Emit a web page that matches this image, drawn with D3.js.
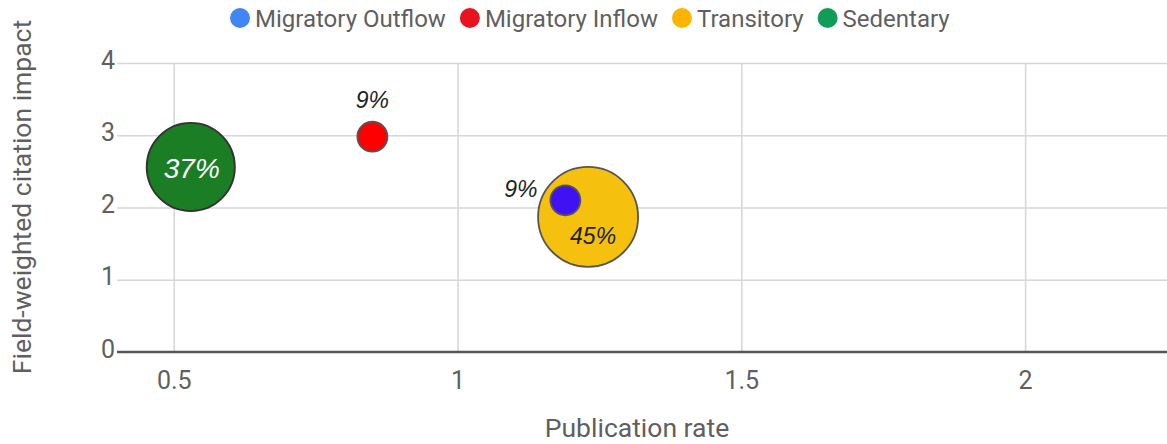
<!DOCTYPE html>
<html>
<head>
<meta charset="utf-8">
<script src="https://cdn.jsdelivr.net/npm/d3@7"></script>
<style>
  html, body { margin: 0; padding: 0; background: #fff; }
  svg { display: block; }
</style>
</head>
<body>
<svg id="chart" width="1167" height="444"></svg>
<script>
// ---- data ----
const categories = ["Migratory Outflow", "Migratory Inflow", "Transitory", "Sedentary"];
const publicationRate = [1.19, 0.85, 1.23, 0.53];
const citationImpact = [2.10, 2.98, 1.87, 2.56];
const sharePct = [9, 9, 45, 37];
const xTicks = [0.5, 1, 1.5, 2];
const yTicks = [0, 1, 2, 3, 4];
const xTitle = "Publication rate";
const yTitle = "Field-weighted citation impact";

// ---- style ----
const bubbleFill = ["#4011f2", "#ff0000", "#f5c10e", "#1b7e25"];
const legendFill = ["#4285f4", "#e8131f", "#fbb400", "#0f9d58"];
const labelColor = ["#222", "#222", "#222", "#fff"];
const labelSize = [23, 23, 23, 28];
// label placement relative to bubble: dx, dy (baseline), anchor
const labelPlace = [
  {dx: -28, dy: -3, anchor: "end"},
  {dx: 0, dy: -29, anchor: "middle"},
  {dx: 5, dy: 27, anchor: "middle"},
  {dx: 1, dy: 11, anchor: "middle"}
];

const svg = d3.select("#chart");
const W = 1167, H = 444;
const m = {left: 117, right: 0, top: 63, bottom: 92};

const x = d3.scaleLinear().domain([0.4, 2.25]).range([m.left, W - m.right]);
const y = d3.scaleLinear().domain([0, 4]).range([H - m.bottom, m.top]);
const r = d3.scaleSqrt().domain([9, 45]).range([15, 50]);

const font = "Roboto, 'Noto Sans', sans-serif";
const grey = "#5f5f5f";

// grid
const gx = svg.append("g")
  .attr("transform", `translate(0,${y(0)})`)
  .call(d3.axisBottom(x).tickValues(xTicks).tickSize(-(y(0) - y(4))).tickFormat(d3.format("")));
gx.select(".domain").remove();
gx.selectAll(".tick line").attr("stroke", "#d6d6d6").attr("stroke-width", 1.5);
gx.selectAll(".tick text")
  .attr("font-family", font).attr("font-size", 25).attr("fill", grey)
  .attr("y", 19).attr("dy", "0.71em");

const gy = svg.append("g")
  .attr("transform", `translate(${m.left},0)`)
  .call(d3.axisLeft(y).tickValues(yTicks).tickSize(-(W - m.left)).tickPadding(2).tickFormat(d3.format("d")));
gy.select(".domain").remove();
gy.selectAll(".tick line").attr("stroke", "#d6d6d6").attr("stroke-width", 1.5)
  .filter(d => d === 0).remove();
gy.selectAll(".tick text")
  .attr("font-family", font).attr("font-size", 25).attr("fill", grey)
  .attr("dy", "0.2em");

// baseline
svg.append("line")
  .attr("x1", m.left).attr("x2", W)
  .attr("y1", y(0)).attr("y2", y(0))
  .attr("stroke", "#555").attr("stroke-width", 2.5);

// bubbles
const data = categories.map((c, i) => ({
  cat: c, x: publicationRate[i], y: citationImpact[i], s: sharePct[i], i
}));
const order = data.slice().sort((a, b) => b.s - a.s);

svg.append("g").selectAll("circle").data(order).join("circle")
  .attr("cx", d => x(d.x))
  .attr("cy", d => y(d.y))
  .attr("r", d => r(d.s))
  .attr("fill", d => bubbleFill[d.i])
  .attr("stroke", d => d.i === 3 ? "#333" : "#555")
  .attr("stroke-width", 1.8);

svg.append("g").selectAll("text").data(order).join("text")
  .attr("x", d => x(d.x) + labelPlace[d.i].dx)
  .attr("y", d => y(d.y) + labelPlace[d.i].dy)
  .attr("text-anchor", d => labelPlace[d.i].anchor)
  .attr("font-family", "'Liberation Sans', Arial, sans-serif")
  .attr("font-style", "italic")
  .attr("font-size", d => labelSize[d.i])
  .attr("fill", d => labelColor[d.i])
  .text(d => d.s + "%");

// axis titles
svg.append("text")
  .attr("x", (m.left + W) / 2 - 5).attr("y", 437)
  .attr("text-anchor", "middle")
  .attr("font-family", font).attr("font-size", 26.5).attr("fill", grey)
  .text(xTitle);

svg.append("text")
  .attr("transform", `translate(31,197) rotate(-90)`)
  .attr("text-anchor", "middle")
  .attr("font-family", font).attr("font-size", 26.5).attr("fill", grey)
  .text(yTitle);

// legend
const lg = svg.append("g");
let cx = 240;
categories.forEach((c, i) => {
  lg.append("circle").attr("cx", cx).attr("cy", 18).attr("r", 10).attr("fill", legendFill[i]);
  const t = lg.append("text")
    .attr("x", cx + 15).attr("y", 26.5)
    .attr("font-family", font).attr("font-size", 24).attr("fill", grey)
    .text(c);
  cx = cx + 15 + t.node().getComputedTextLength() + 24;
});
</script>
</body>
</html>
